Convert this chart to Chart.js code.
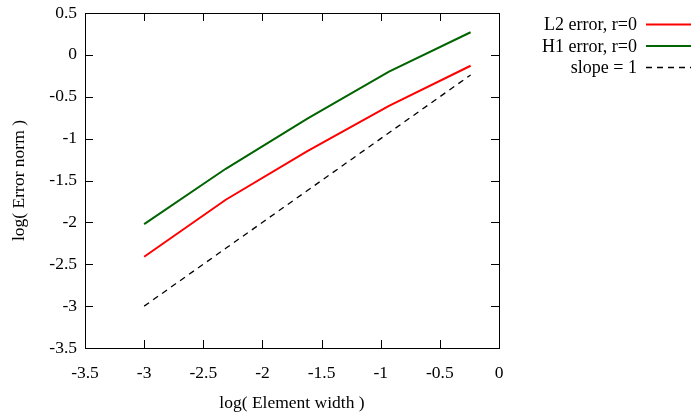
<!DOCTYPE html>
<html>
<head>
<meta charset="utf-8">
<script src="https://cdn.jsdelivr.net/npm/chart.js@4/dist/chart.umd.min.js"></script>
<style>
  html, body { margin: 0; padding: 0; background: #fff; }
  #wrap { width: 691px; height: 419px; }
</style>
</head>
<body>
<div id="wrap"><canvas id="graph_canvas" width="691" height="419"></canvas></div>
<script>
// log of element width (x) for each mesh
var logWidth = [-3.0, -2.31, -1.62, -0.93, -0.24];
// errors
var l2Error = [-2.41, -1.73, -1.15, -0.61, -0.13];
var h1Error = [-2.02, -1.36, -0.76, -0.20, 0.27];
var slopeOne = [-3.0, -2.31, -1.62, -0.93, -0.24];

var xTicks = [-3.5, -3, -2.5, -2, -1.5, -1, -0.5, 0];
var yTicks = [-3.5, -3, -2.5, -2, -1.5, -1, -0.5, 0, 0.5];

var seriesNames = ['L2 error, r=0', 'H1 error, r=0', 'slope = 1'];

var FONT = 'Liberation Serif';

function pts(ys) {
    return logWidth.map(function(x, i) { return {x: x, y: ys[i]}; });
}

// gnuplot style: full border with inward ticks on every side, key at the right
var gnuplotFrame = {
    id: 'gnuplotFrame',
    afterDraw: function(chart) {
        var ctx = chart.ctx;
        var a = chart.chartArea;
        var xs = chart.scales.x, ys = chart.scales.y;
        var tl = 8;
        ctx.save();
        ctx.strokeStyle = '#000';
        ctx.lineWidth = 1;
        ctx.beginPath();
        xTicks.forEach(function(v) {
            var px = Math.round(xs.getPixelForValue(v)) + 0.5;
            ctx.moveTo(px, a.bottom); ctx.lineTo(px, a.bottom - tl);
            ctx.moveTo(px, a.top); ctx.lineTo(px, a.top + tl);
        });
        yTicks.forEach(function(v) {
            var py = Math.round(ys.getPixelForValue(v)) + 0.5;
            ctx.moveTo(a.left, py); ctx.lineTo(a.left + tl, py);
            ctx.moveTo(a.right, py); ctx.lineTo(a.right - tl, py);
        });
        ctx.stroke();
        ctx.strokeRect(Math.round(a.left) + 0.5, Math.round(a.top) + 0.5,
                       Math.round(a.right - a.left), Math.round(a.bottom - a.top));

        // key
        ctx.font = '18px "' + FONT + '"';
        ctx.textAlign = 'right';
        ctx.textBaseline = 'middle';
        chart.data.datasets.forEach(function(ds, i) {
            var y = 24.5 + i * 21.5;
            ctx.fillStyle = '#000';
            ctx.fillText(seriesNames[i], 637, y + 1);
            ctx.strokeStyle = ds.borderColor;
            ctx.lineWidth = ds.borderWidth;
            ctx.setLineDash(ds.borderDash || []);
            ctx.beginPath();
            ctx.moveTo(646, y); ctx.lineTo(691, y);
            ctx.stroke();
            ctx.setLineDash([]);
        });
        ctx.restore();
    }
};

Chart.defaults.font.family = FONT;
Chart.defaults.font.size = 17.5;
Chart.defaults.color = '#000';

var chart = new Chart(document.getElementById('graph_canvas').getContext('2d'), {
    type: 'line',
    data: {
        datasets: [
            { label: seriesNames[0], data: pts(l2Error), borderColor: '#ff0000', borderWidth: 2 },
            { label: seriesNames[1], data: pts(h1Error), borderColor: '#006400', borderWidth: 2 },
            { label: seriesNames[2], data: pts(slopeOne), borderColor: '#000000', borderWidth: 1.3, borderDash: [6, 5] }
        ]
    },
    options: {
        responsive: false,
        animation: false,
        devicePixelRatio: 1,
        layout: { padding: { left: 0, right: 192, top: 13, bottom: 0 } },
        elements: { point: { radius: 0 }, line: { tension: 0 } },
        plugins: { legend: { display: false }, tooltip: { enabled: false } },
        scales: {
            x: {
                type: 'linear', min: -3.5, max: 0,
                afterBuildTicks: function(s) { s.ticks = xTicks.map(function(v) { return {value: v}; }); },
                afterFit: function(s) { s.height = 71; s.paddingLeft = 0; s.paddingRight = 0; },
                grid: { display: false, drawTicks: false },
                border: { display: false },
                ticks: { padding: 15, maxRotation: 0, callback: function(v) { return String(v); } },
                title: { display: true, text: 'log( Element width )', padding: { top: 0, bottom: 5 } }
            },
            y: {
                type: 'linear', min: -3.5, max: 0.5,
                afterBuildTicks: function(s) { s.ticks = yTicks.map(function(v) { return {value: v}; }); },
                afterFit: function(s) { s.width = 85; s.paddingTop = 0; s.paddingBottom = 0; },
                grid: { display: false, drawTicks: false },
                border: { display: false },
                ticks: { padding: 8, callback: function(v) { return String(v); } },
                title: { display: true, text: 'log( Error norm )', padding: { top: 9, bottom: 9 } }
            }
        }
    },
    plugins: [gnuplotFrame]
});
</script>
</body>
</html>
